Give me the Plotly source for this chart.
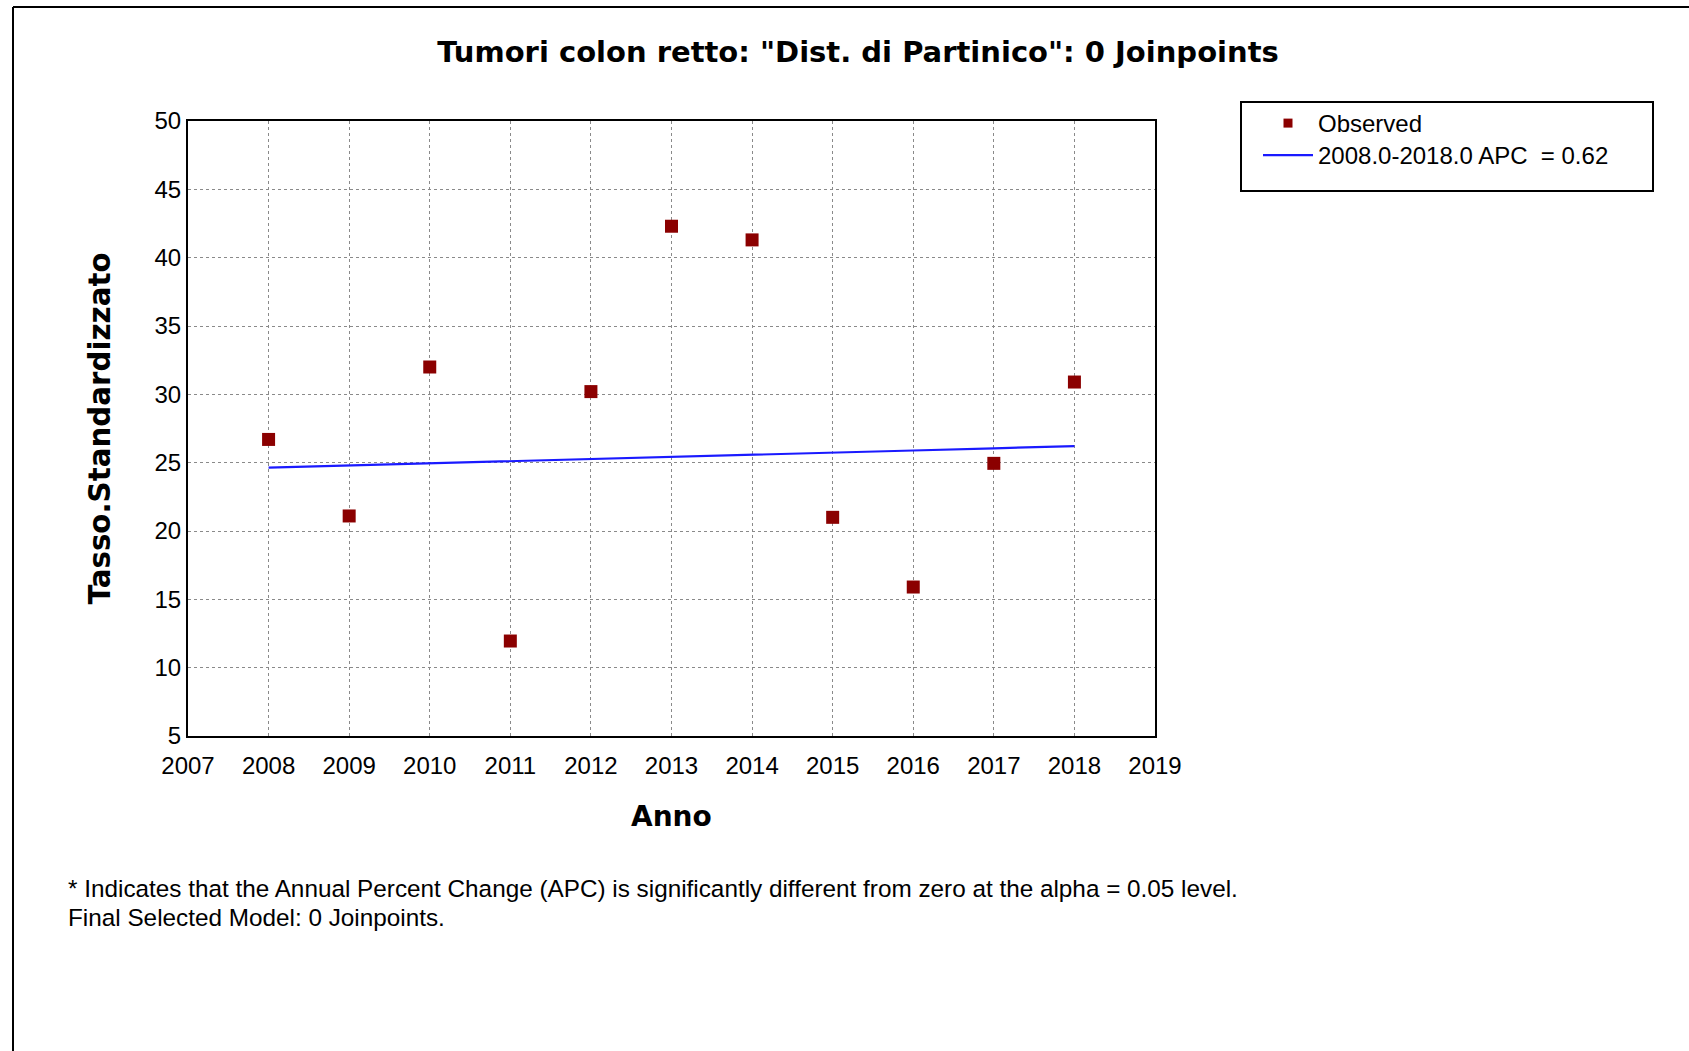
import plotly.graph_objects as go

# ---- data ----
years = [2008, 2009, 2010, 2011, 2012, 2013, 2014, 2015, 2016, 2017, 2018]
observed = [26.7, 21.1, 32.0, 11.95, 30.2, 42.3, 41.3, 21.0, 15.9, 24.95, 30.9]
fitted = [24.64, 24.79, 24.95, 25.10, 25.26, 25.41, 25.57, 25.73, 25.89, 26.05, 26.21]
x_ticks = [2007, 2008, 2009, 2010, 2011, 2012, 2013, 2014, 2015, 2016, 2017, 2018, 2019]
y_ticks = [5, 10, 15, 20, 25, 30, 35, 40, 45, 50]
title_text = 'Tumori colon retto: "Dist. di Partinico": 0 Joinpoints'
x_title = "Anno"
y_title = "Tasso.Standardizzato"
observed_name = "Observed"
fit_name = "2008.0-2018.0 APC  = 0.62"
footnotes = [
    "* Indicates that the Annual Percent Change (APC) is significantly different from zero at the alpha = 0.05 level.",
    "Final Selected Model: 0 Joinpoints.",
]

W, H = 1689, 1051
L, R, T, B = 188, 1155, 121, 736  # plot area in pixels
pw, ph = R - L, B - T


def px(x):
    return (x - L) / pw


def py(y):
    return (B - y) / ph


BOLD = "DejaVu Sans"
REG = "Liberation Sans, Arial, sans-serif"
MARKER_COLOR = "#8B0000"
LINE_COLOR = "#1A1AFF"

fig = go.Figure()
fig.add_trace(go.Scatter(
    x=years, y=observed, mode="markers", name=observed_name, showlegend=False,
    marker=dict(symbol="square", size=13, color=MARKER_COLOR),
))
fig.add_trace(go.Scatter(
    x=years, y=fitted, mode="lines", name=fit_name, legend="legend2",
    line=dict(color=LINE_COLOR, width=2.2),
))
# legend-only entry with the smaller legend marker of the reference
fig.add_trace(go.Scatter(
    x=[None], y=[None], mode="markers", name=observed_name, legend="legend",
    marker=dict(symbol="square", size=9, color=MARKER_COLOR),
))

axis_common = dict(
    showgrid=True, gridcolor="#8a8a8a", griddash="dot", gridwidth=1,
    showline=True, linecolor="black", linewidth=2, mirror=True,
    ticks="", zeroline=False,
    tickfont=dict(family=REG, size=24, color="black"),
)

fig.update_xaxes(range=[2007, 2019], tickvals=x_ticks, ticktext=[str(v) for v in x_ticks],
                 ticklabelstandoff=7, **axis_common)
fig.update_yaxes(range=[5, 50], tickvals=y_ticks, ticktext=[str(v) for v in y_ticks],
                 **axis_common)

annotations = [
    dict(text=f"<b>{x_title}</b>", x=0.5, y=py(816), xref="paper", yref="paper",
         showarrow=False, xanchor="center", yanchor="middle",
         font=dict(family=BOLD, size=28, color="black")),
    dict(text=f"<b>{y_title}</b>", x=px(99), y=0.5, xref="paper", yref="paper",
         showarrow=False, xanchor="center", yanchor="middle", textangle=-90,
         font=dict(family=BOLD, size=29.3, color="black")),
]
for i, line in enumerate(footnotes):
    annotations.append(dict(
        text=line, x=px(66), y=py(888 + 29 * i), xref="paper", yref="paper",
        showarrow=False, xanchor="left", yanchor="middle",
        font=dict(family=REG, size=24.3, color="black")))

shapes = [
    # outer frame (top and left edges)
    dict(type="line", xref="paper", yref="paper", x0=px(13), x1=px(W + 5), y0=py(7), y1=py(7),
         line=dict(color="black", width=2)),
    dict(type="line", xref="paper", yref="paper", x0=px(13), x1=px(13), y0=py(7), y1=py(H + 5),
         line=dict(color="black", width=2)),
    # legend box
    dict(type="rect", xref="paper", yref="paper", x0=px(1241), x1=px(1653), y0=py(102), y1=py(191),
         line=dict(color="black", width=2), fillcolor="rgba(0,0,0,0)"),
]

legend_common = dict(xanchor="left", yanchor="top", bgcolor="rgba(0,0,0,0)", borderwidth=0,
                     itemwidth=50, font=dict(family=REG, size=24, color="black"))

fig.update_layout(
    width=W, height=H, autosize=False,
    margin=dict(l=L, r=W - R, t=T, b=H - B, pad=0),
    paper_bgcolor="white", plot_bgcolor="white",
    title=dict(text=f"<b>{title_text}</b>", x=858 / W, y=1 - 52 / H, xref="container", yref="container",
               xanchor="center", yanchor="middle",
               font=dict(family=BOLD, size=29, color="black")),
    showlegend=True,
    legend=dict(x=px(1258), y=py(101), **legend_common),
    legend2=dict(x=px(1258), y=py(133), **legend_common),
    annotations=annotations,
    shapes=shapes,
)

fig.write_html("out.html", config={"displayModeBar": False},
               post_script="document.body.style.margin='0';")
